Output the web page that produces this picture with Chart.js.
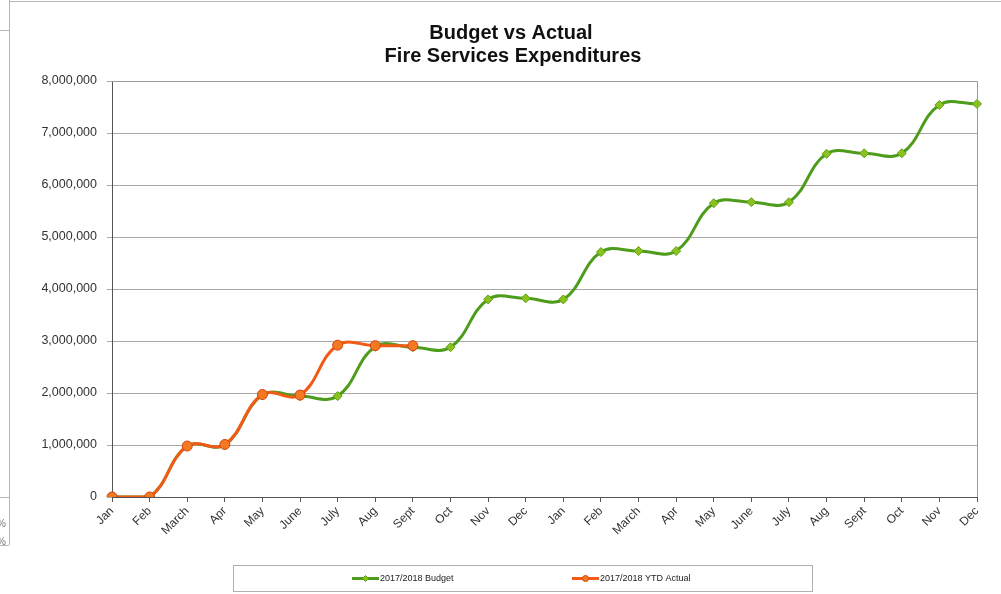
<!DOCTYPE html>
<html>
<head>
<meta charset="utf-8">
<script src="https://cdn.jsdelivr.net/npm/chart.js@4"></script>
<style>
  html, body { margin: 0; padding: 0; background: #fff; }
  #wrap { position: relative; width: 1001px; height: 594px; }
</style>
</head>
<body>
<div id="wrap"><canvas id="chart" width="1001" height="594"></canvas></div>
<script>
const months = ["Jan", "Feb", "March", "Apr", "May", "June", "July", "Aug", "Sept", "Oct", "Nov", "Dec",
                "Jan", "Feb", "March", "Apr", "May", "June", "July", "Aug", "Sept", "Oct", "Nov", "Dec"];
const budget = [0, 0, 980000, 1000000, 1960000, 1940000, 1940000, 2890000, 2880000, 2880000, 3800000, 3820000,
                3800000, 4710000, 4730000, 4730000, 5650000, 5670000, 5670000, 6600000, 6610000, 6610000, 7540000, 7560000];
const actual = [0, 0, 980000, 1010000, 1970000, 1960000, 2920000, 2910000, 2910000];
const yTicks = [0, 1000000, 2000000, 3000000, 4000000, 5000000, 6000000, 7000000, 8000000];
const titleLines = ["Budget vs Actual", "Fire Services Expenditures"];

const decor = {
  id: "decor",
  afterDraw(chart) {
    const ctx = chart.ctx, a = chart.chartArea;
    ctx.save();
    // plot frame (top/right)
    ctx.strokeStyle = "#9a9a9a";
    ctx.lineWidth = 1;
    ctx.beginPath();
    ctx.moveTo(a.left, a.top + 0.5); ctx.lineTo(a.right + 0.5, a.top + 0.5); ctx.lineTo(a.right + 0.5, a.bottom);
    ctx.stroke();
    // scan frame on the left / top
    ctx.strokeStyle = "#b5b5b5";
    ctx.beginPath();
    ctx.moveTo(9.5, 0); ctx.lineTo(9.5, 545);
    ctx.moveTo(0, 30.5); ctx.lineTo(9, 30.5);
    ctx.moveTo(0, 497.5); ctx.lineTo(9, 497.5);
    ctx.moveTo(0, 545.5); ctx.lineTo(9, 545.5);
    ctx.moveTo(10, 1.5); ctx.lineTo(1001, 1.5);
    ctx.stroke();
    ctx.fillStyle = "#777";
    ctx.font = "10px 'Liberation Sans', Arial, sans-serif";
    ctx.textAlign = "left"; ctx.textBaseline = "middle";
    ctx.fillText("%", -3, 524);
    ctx.fillText("%", -3, 542);

    // title
    ctx.fillStyle = "#111";
    ctx.font = "bold 20px 'Liberation Sans', Arial, sans-serif";
    ctx.textAlign = "center"; ctx.textBaseline = "middle";
    ctx.fillText(titleLines[0], 511, 33);
    ctx.fillText(titleLines[1], 513, 56);

    // legend
    ctx.strokeStyle = "#b0b0b0";
    ctx.strokeRect(233.5, 565.5, 579, 26);
    const items = [
      { ds: chart.data.datasets[0], x: 352 },
      { ds: chart.data.datasets[1], x: 572 }
    ];
    const ly = 578.5;
    ctx.font = "9px 'Liberation Sans', Arial, sans-serif";
    ctx.textAlign = "left";
    items.forEach(it => {
      const ds = it.ds;
      ctx.strokeStyle = ds.borderColor;
      ctx.lineWidth = 3;
      ctx.beginPath(); ctx.moveTo(it.x, ly); ctx.lineTo(it.x + 27, ly); ctx.stroke();
      ctx.fillStyle = ds.pointBackgroundColor;
      ctx.strokeStyle = ds.pointBorderColor;
      ctx.lineWidth = 1;
      const cx = it.x + 13.5;
      ctx.beginPath();
      if (ds.pointStyle === "circle") {
        ctx.arc(cx, ly, 3, 0, Math.PI * 2);
      } else {
        ctx.moveTo(cx, ly - 3); ctx.lineTo(cx + 3, ly); ctx.lineTo(cx, ly + 3); ctx.lineTo(cx - 3, ly); ctx.closePath();
      }
      ctx.fill(); ctx.stroke();
      ctx.fillStyle = "#222";
      ctx.fillText(ds.label, it.x + 28, ly);
    });
    ctx.restore();
  }
};

new Chart(document.getElementById("chart"), {
  type: "line",
  data: {
    labels: months,
    datasets: [
      {
        label: "2017/2018 Budget",
        data: budget,
        borderColor: "#4e9c1c",
        borderWidth: 3,
        tension: 0.4,
        pointStyle: "rectRot",
        pointRadius: 4.5,
        pointBackgroundColor: "#8cc21e",
        pointBorderColor: "#5e9f18",
        pointBorderWidth: 1,
        order: 2
      },
      {
        label: "2017/2018 YTD Actual",
        data: actual,
        borderColor: "#f25a16",
        borderWidth: 3,
        tension: 0.4,
        pointStyle: "circle",
        pointRadius: 5,
        pointBackgroundColor: "#f47a22",
        pointBorderColor: "#d5420e",
        pointBorderWidth: 1,
        order: 1
      }
    ]
  },
  options: {
    responsive: false,
    animation: false,
    layout: { padding: { left: 0, right: 24, top: 81, bottom: 0 } },
    plugins: { legend: { display: false }, title: { display: false }, tooltip: { enabled: false } },
    scales: {
      x: {
        offset: false,
        afterFit: s => { s.height = 97; },
        grid: { drawOnChartArea: false, drawTicks: true, tickLength: 5, color: "#555" },
        border: { color: "#555", width: 1 },
        ticks: {
          autoSkip: false,
          minRotation: 45,
          maxRotation: 45,
          padding: 2,
          color: "#333",
          font: { family: "'Liberation Sans', Arial, sans-serif", size: 12 }
        }
      },
      y: {
        min: 0,
        max: 8000000,
        afterFit: s => { s.width = 112; },
        afterBuildTicks: s => { s.ticks = yTicks.map(v => ({ value: v })); },
        grid: { color: "#a8a8a8", tickLength: 5, lineWidth: 1 },
        border: { color: "#555", width: 1 },
        ticks: {
          padding: 10,
          color: "#333",
          font: { family: "'Liberation Sans', Arial, sans-serif", size: 12.5 },
          callback: v => v.toLocaleString("en-US")
        }
      }
    }
  },
  plugins: [decor]
});
</script>
</body>
</html>
